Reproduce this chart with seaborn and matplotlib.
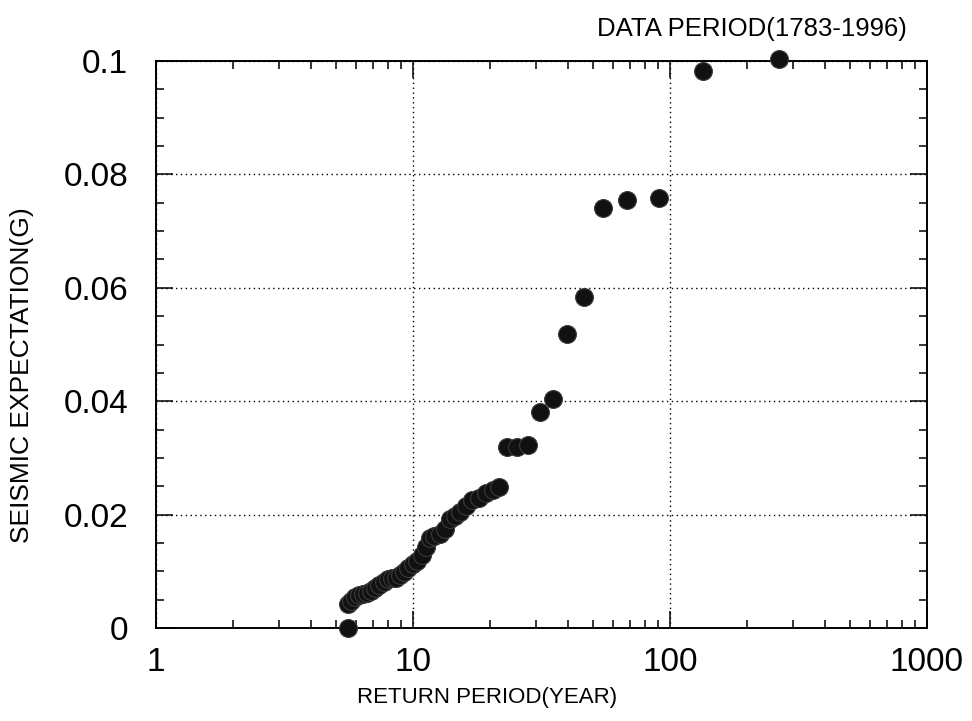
import numpy as np
import pandas as pd
import matplotlib
matplotlib.use("Agg")
import matplotlib.pyplot as plt
import seaborn as sns
from matplotlib.ticker import FixedLocator, LogLocator, MultipleLocator, NullFormatter

# values
return_period = [5.57, 5.6, 5.75, 5.95, 6.15, 6.4, 6.6, 6.85, 7.1, 7.4, 7.7, 8.0,
                 8.3, 8.6, 8.9, 9.2, 9.6, 10.0, 10.4, 10.8, 11.2, 11.6, 12.1, 12.7,
                 13.3, 13.9, 14.6, 15.3, 16.1, 17.0, 18.0, 19.2, 20.5, 21.7,
                 23.3, 25.5, 28.1, 31.1, 34.9, 39.6, 46.1, 54.7, 67.9, 90.6,
                 134.6, 266.6]
seismic_g = [0.0, 0.0042, 0.0048, 0.0055, 0.0058, 0.0060, 0.0062, 0.0066, 0.0070,
             0.0075, 0.0082, 0.0087, 0.0088, 0.0089, 0.0093, 0.0099, 0.0105, 0.0112,
             0.0118, 0.0128, 0.0142, 0.0158, 0.0163, 0.0165, 0.0175, 0.0192, 0.0198,
             0.0205, 0.0215, 0.0225, 0.0230, 0.0238, 0.0244, 0.0248,
             0.0319, 0.0320, 0.0322, 0.0381, 0.0404, 0.0519, 0.0584, 0.0740,
             0.0754, 0.0759, 0.0982, 0.1003]

x_ticks = [1, 10, 100, 1000]
x_tick_labels = ["1", "10", "100", "1000"]
y_ticks = [0, 0.02, 0.04, 0.06, 0.08, 0.1]
y_tick_labels = ["0", "0.02", "0.04", "0.06", "0.08", "0.1"]

sns.set_style("ticks")
plt.rcParams["font.family"] = ["Liberation Sans", "DejaVu Sans"]
plt.rcParams["text.color"] = "black"
plt.rcParams["xtick.color"] = "black"
plt.rcParams["ytick.color"] = "black"
plt.rcParams["xtick.labelcolor"] = "black"
plt.rcParams["ytick.labelcolor"] = "black"

df = pd.DataFrame({"period": return_period, "g": seismic_g})

W, H = 972, 721
fig = plt.figure(figsize=(W / 100, H / 100), dpi=100)
ax = fig.add_axes([156 / W, 1 - 628 / H, (927 - 156) / W, (628 - 61) / H])

sns.scatterplot(data=df, x="period", y="g", s=165, color="#111111",
                edgecolor="#3a3a3a", linewidth=0.8, ax=ax, clip_on=False,
                zorder=3, legend=False)

ax.set_xscale("log")
ax.set_xlim(1, 1000)
ax.set_ylim(0, 0.1)

ax.xaxis.set_major_locator(FixedLocator(x_ticks))
ax.set_xticklabels(x_tick_labels)
ax.xaxis.set_minor_locator(LogLocator(base=10, subs=np.arange(2, 10)))
ax.xaxis.set_minor_formatter(NullFormatter())
ax.yaxis.set_major_locator(FixedLocator(y_ticks))
ax.set_yticklabels(y_tick_labels)
ax.yaxis.set_minor_locator(MultipleLocator(0.005))

ax.tick_params(which="both", direction="in", top=True, right=True, width=1.1)
ax.tick_params(which="major", length=12, labelsize=24)
ax.tick_params(which="minor", length=6)
ax.tick_params(axis="x", which="major", pad=14)
ax.tick_params(axis="y", which="major", pad=20)

ax.grid(which="major", color="black", linestyle=(0, (1, 2.5)), linewidth=1.0)
for sp in ax.spines.values():
    sp.set_color("black")
    sp.set_linewidth(1.4)

ax.set_xlabel("")
ax.set_ylabel("")
fig.text(487 / W, 1 - 697 / H, "RETURN PERIOD(YEAR)", ha="center", va="center",
         fontsize=16)
fig.text(22 / W, 1 - 375 / H, "SEISMIC EXPECTATION(G)", ha="center", va="center",
         rotation=90, fontsize=19)
fig.text(752 / W, 1 - 29 / H, "DATA PERIOD(1783-1996)", ha="center", va="center",
         fontsize=18.5)

fig.savefig("out.png", dpi=100, facecolor="white")
